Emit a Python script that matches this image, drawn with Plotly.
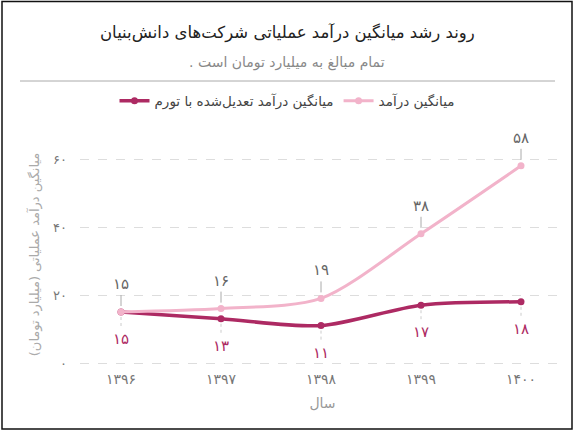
import plotly.graph_objects as go

# داده‌ها
years = [1396, 1397, 1398, 1399, 1400]
year_labels = ['۱۳۹۶', '۱۳۹۷', '۱۳۹۸', '۱۳۹۹', '۱۴۰۰']
avg_income = [15, 16, 19, 38, 58]
avg_income_adj = [15, 13, 11, 17, 18]
y_ticks = [0, 20, 40, 60]

PINK = '#f2b3ca'
DARK = '#ad2a63'
FONT = 'DejaVu Sans'
RLM = '\u200f'

W, H = 575, 432
ML, MR, MT, MB = 80, 10, 140, 63


def fa_digits(n):
    return str(n).translate(str.maketrans('0123456789', '۰۱۲۳۴۵۶۷۸۹'))


# تبدیل پیکسل به مختصات paper
def px(x):
    return (x - ML) / (W - ML - MR)


def py(y):
    return (H - MB - y) / (H - MT - MB)


fig = go.Figure()

# خط تعدیل‌شده با تورم
fig.add_trace(go.Scatter(
    x=years, y=avg_income_adj, name='میانگین درآمد تعدیل‌شده با تورم',
    mode='lines+markers', line=dict(color=DARK, width=3.5, shape='spline', smoothing=0.8),
    marker=dict(size=7, color=DARK)))

# خط میانگین درآمد
fig.add_trace(go.Scatter(
    x=years, y=avg_income, name='میانگین درآمد',
    mode='lines+markers', line=dict(color=PINK, width=3, shape='spline', smoothing=0.8),
    marker=dict(size=7, color=PINK)))

# برچسب‌ها و خطوط راهنما
for x, v in zip(years, avg_income):
    fig.add_annotation(x=x, y=v, text=fa_digits(v), showarrow=False, yshift=28,
                       font=dict(family=FONT, size=15, color='#666'))
    fig.add_shape(type='line', xref='x', yref='y', x0=x, x1=x, ysizemode='pixel',
                  yanchor=v, y0=6, y1=17, line=dict(color='#aaa', width=1))
for x, v in zip(years, avg_income_adj):
    fig.add_annotation(x=x, y=v, text=fa_digits(v), showarrow=False, yshift=-27,
                       font=dict(family=FONT, size=15, color=DARK))
    fig.add_shape(type='line', xref='x', yref='y', x0=x, x1=x, ysizemode='pixel',
                  yanchor=v, y0=-5, y1=-14, line=dict(color='#ccc', width=1, dash='dot'))

# عنوان، زیرعنوان و خط جداکننده
fig.add_annotation(text=RLM + 'روند رشد میانگین درآمد عملیاتی شرکت‌های دانش‌بنیان' + RLM,
                   xref='paper', yref='paper', x=px(287), y=py(33), yanchor='middle',
                   showarrow=False, font=dict(family=FONT, size=16.5, color='#222'))
fig.add_annotation(text=RLM + 'تمام مبالغ به میلیارد تومان است .' + RLM,
                   xref='paper', yref='paper', x=px(287), y=py(62), yanchor='middle',
                   showarrow=False, font=dict(family=FONT, size=14, color='#888'))
fig.add_shape(type='line', xref='paper', yref='paper', x0=px(20), x1=px(555),
              y0=py(81), y1=py(81), line=dict(color='#aaa', width=1))
# قاب دور نمودار
fig.add_shape(type='rect', xref='paper', yref='paper', x0=px(2), x1=px(572),
              y0=py(429), y1=py(1.5), line=dict(color='#111', width=1.5))

fig.update_layout(
    width=W, height=H,
    margin=dict(l=ML, r=MR, t=MT, b=MB),
    paper_bgcolor='white', plot_bgcolor='white',
    font=dict(family=FONT, color='#888'),
    showlegend=True,
    legend=dict(orientation='h', x=px(287), xanchor='center', y=py(101), yanchor='middle',
                font=dict(family=FONT, size=13.5, color='#444'), itemwidth=30),
    xaxis=dict(range=[1395.59, 1400.44], tickvals=years, ticktext=year_labels,
               showgrid=False, zeroline=False, showline=False, ticks='',
               tickfont=dict(family=FONT, size=14, color='#777'),
               title=dict(text='سال', font=dict(family=FONT, size=14, color='#999'), standoff=12)),
    yaxis=dict(range=[-1.76, 65.59], tickvals=y_ticks, ticktext=[fa_digits(t) for t in y_ticks],
               showgrid=True, gridcolor='#ddd', griddash='dash', zeroline=False,
               showline=False, ticks='', ticklabelstandoff=12,
               tickfont=dict(family=FONT, size=13, color='#777'),
               title=dict(text=RLM + 'میانگین درآمد عملیاتی (میلیارد تومان)' + RLM,
                          font=dict(family=FONT, size=13, color='#aaa'), standoff=10)),
)

fig.write_html("out.html", config={'displayModeBar': False},
               post_script="document.body.style.margin='0';")
